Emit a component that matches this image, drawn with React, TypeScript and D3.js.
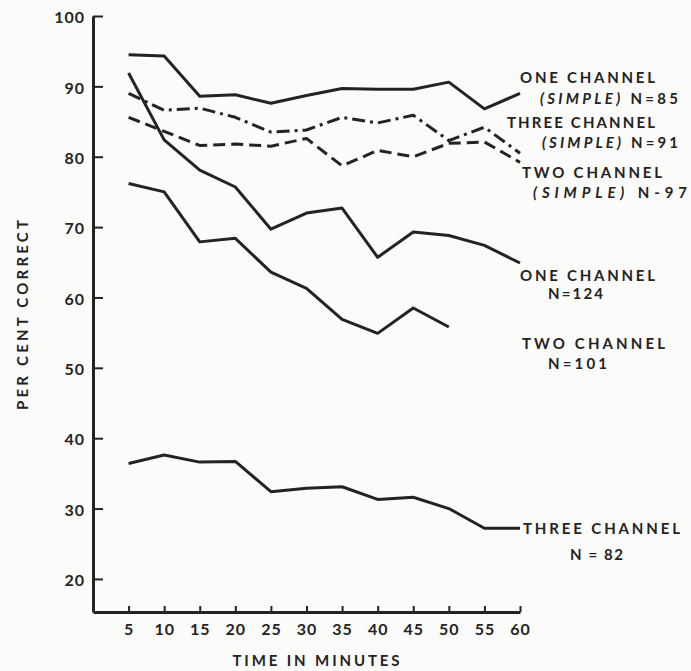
import React, { useEffect, useRef } from "react";
import * as d3 from "d3";

// minutes into the watch
const minutes = [5, 10, 15, 20, 25, 30, 35, 40, 45, 50, 55, 60];

// per cent correct
const oneChannelSimple = [94.5, 94.3, 88.6, 88.8, 87.6, 88.7, 89.7, 89.6, 89.6, 90.6, 86.8, 89.0];
const threeChannelSimple = [89.0, 86.6, 86.9, 85.6, 83.5, 83.8, 85.6, 84.8, 85.9, 82.3, 84.2, 80.5];
const twoChannelSimple = [85.6, 83.6, 81.6, 81.8, 81.5, 82.6, 78.7, 80.9, 80.0, 81.9, 82.1, 79.2];
const oneChannel = [91.9, 82.4, 78.1, 75.7, 69.7, 72.0, 72.7, 65.7, 69.3, 68.8, 67.4, 64.9];
const twoChannel = [76.2, 75.0, 67.9, 68.4, 63.6, 61.3, 56.9, 54.9, 58.5, 55.8];
const threeChannel = [36.4, 37.6, 36.6, 36.7, 32.4, 32.9, 33.1, 31.3, 31.6, 30.0, 27.2, 27.2];

const yTicks = [20, 30, 40, 50, 60, 70, 80, 90, 100];
const xTicks = minutes;

const W = 691;
const H = 671;
const INK = "#232323";
const FONT = "Lato, 'DejaVu Sans', sans-serif";

const App = () => {
  const ref = useRef<SVGSVGElement>(null);

  useEffect(() => {
    const svg = d3.select(ref.current);
    svg.selectAll("*").remove();

    const x = d3.scaleLinear().domain([0, 60]).range([93, 520]);
    const y = d3.scaleLinear().domain([15.3, 100]).range([612, 16]);

    svg.append("rect").attr("width", W).attr("height", H).attr("fill", "#fbfbfa");

    // axes
    const yAxis = d3.axisLeft(y).tickValues(yTicks).tickSizeInner(-10).tickSizeOuter(0).tickPadding(8);
    const gy = svg.append("g").attr("transform", "translate(93,0)").call(yAxis);
    const xAxis = d3.axisBottom(x).tickValues(xTicks).tickSizeInner(-6).tickSizeOuter(0).tickPadding(12);
    const gx = svg.append("g").attr("transform", "translate(0,612)").call(xAxis);

    for (const g of [gx, gy]) {
      g.select(".domain").attr("stroke", INK).attr("stroke-width", 3)
      g.selectAll(".tick line").attr("stroke", INK).attr("stroke-width", 2)
      g.selectAll(".tick text")
        .attr("fill", INK)
        .attr("font-family", FONT)
        .attr("font-weight", 700)
        .attr("font-size", 16)
        .attr("letter-spacing", 1)
    }
    gy.selectAll(".tick text").attr("dy", "0.42em")

    // axis titles
    svg.append("text")
      .attr("x", 316).attr("y", 666)
      .attr("text-anchor", "middle")
      .attr("font-family", FONT).attr("font-weight", 700).attr("font-size", 15)
      .attr("fill", INK)
      .attr("textLength", 167)
      .text("TIME IN MINUTES");

    svg.append("text")
      .attr("transform", "translate(28,315) rotate(-90)")
      .attr("text-anchor", "middle")
      .attr("font-family", FONT).attr("font-weight", 700).attr("font-size", 15)
      .attr("fill", INK)
      .attr("textLength", 190)
      .text("PER CENT CORRECT");

    // curves
    const series = [
      { values: oneChannelSimple, dash: null },
      { values: threeChannelSimple, dash: "13,5,3,5" },
      { values: twoChannelSimple, dash: "12,6" },
      { values: oneChannel, dash: null },
      { values: twoChannel, dash: null },
      { values: threeChannel, dash: null },
    ];
    const line = d3.line<number>()
      .x((_, i) => x(minutes[i]))
      .y(d => y(d));

    series.forEach(s => {
      svg.append("path")
        .attr("d", line(s.values))
        .attr("fill", "none")
        .attr("stroke", INK)
        .attr("stroke-width", 3)
        .attr("stroke-linejoin", "round")
        .attr("stroke-dasharray", s.dash)
    });

    // labels at the right
    const label = (px: number, py: number, parts: [string, boolean][], len: number) => {
      const t = svg.append("text")
        .attr("x", px).attr("y", py)
        .attr("font-family", FONT).attr("font-weight", 700).attr("font-size", 15)
        .attr("fill", INK)
        .attr("textLength", len)
        .attr("lengthAdjust", "spacing");
      parts.forEach(([str, it]) => {
        t.append("tspan").attr("font-style", it ? "italic" : "normal").text(str)
      });
    };
    label(520, 83, [["ONE CHANNEL", false]], 135);
    label(540, 104, [["(SIMPLE)", true], [" N=85", false]], 138);
    label(507, 128, [["THREE CHANNEL", false]], 148);
    label(542, 148, [["(SIMPLE)", true], [" N=91", false]], 136);
    label(522, 178, [["TWO CHANNEL", false]], 140);
    label(533, 198, [["(SIMPLE)", true], [" N-97", false]], 154);
    label(520, 281, [["ONE CHANNEL", false]], 135);
    label(548, 299, [["N=124", false]], 55);
    label(522, 349, [["TWO CHANNEL", false]], 143);
    label(548, 369, [["N=101", false]], 59);
    label(523, 534, [["THREE CHANNEL", false]], 157);
    label(570, 560, [["N = 82", false]], 53);
  }, []);

  return (
    <svg ref={ref} width={W} height={H} style={{ position: "absolute", left: 0, top: 0 }} />
  );
};

export default App;
